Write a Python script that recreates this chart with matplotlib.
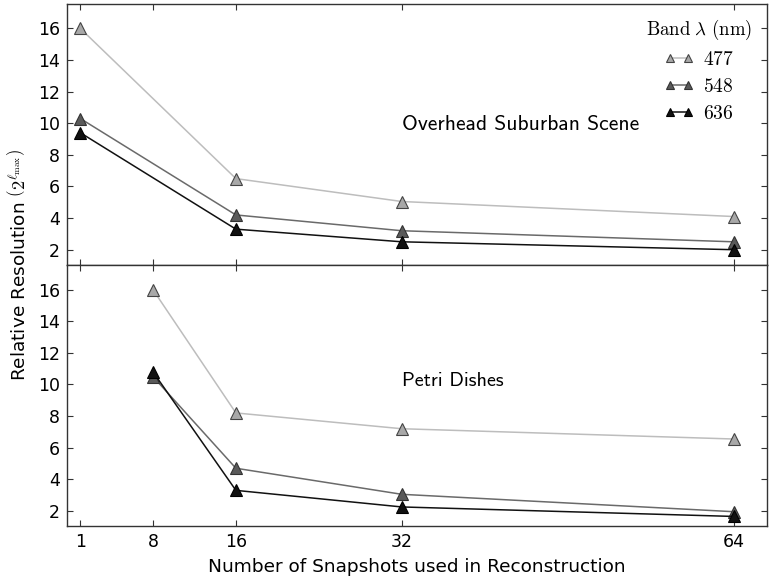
import matplotlib
matplotlib.use("Agg")
import matplotlib.pyplot as plt

plt.rcParams['mathtext.fontset'] = 'cm'
plt.rcParams['font.family'] = 'DejaVu Sans'

snapshots_top = [1, 16, 32, 64]
snapshots_bot = [8, 16, 32, 64]
bands = ['477', '548', '636']

# overhead suburban scene
res_top = {
    '477': [16.0, 6.5, 5.05, 4.1],
    '548': [10.3, 4.2, 3.2, 2.5],
    '636': [9.4, 3.3, 2.5, 2.0],
}
# petri dishes
res_bot = {
    '477': [16.0, 8.2, 7.2, 6.55],
    '548': [10.5, 4.7, 3.05, 1.95],
    '636': [10.8, 3.3, 2.25, 1.65],
}

line_col = {'477': '#bdbdbd', '548': '#6a6a6a', '636': '#111111'}
face_col = {'477': '#a8a8a8', '548': '#5a5a5a', '636': '#111111'}
edge_col = {'477': '#444444', '548': '#333333', '636': '#000000'}

xticks = [1, 8, 16, 32, 64]
yticks = [2, 4, 6, 8, 10, 12, 14, 16]

fig = plt.figure(figsize=(7.69, 5.85), dpi=100)
gs = fig.add_gridspec(2, 1, left=0.087, right=0.997, top=0.994, bottom=0.101, hspace=0)
ax1 = fig.add_subplot(gs[0])
ax2 = fig.add_subplot(gs[1], sharex=ax1)

for ax, xs, data in [(ax1, snapshots_top, res_top), (ax2, snapshots_bot, res_bot)]:
    for b in bands:
        ax.plot(xs, data[b], '-', marker='^', color=line_col[b], lw=1.1,
                ms=8, mfc=face_col[b], mec=edge_col[b], mew=0.8,
                label='$' + b + '$')
    ax.set_ylim(1.05, 17.58)
    ax.set_yticks(yticks)
    ax.tick_params(direction='in', top=True, right=True, length=4.5, pad=5,
                   labelsize=12.5, color='#333333')
    for s in ax.spines.values():
        s.set_color('#333333')
        s.set_linewidth(1.0)

ax1.set_xlim(-0.3, 67.2)
ax1.set_xticks(xticks)
ax1.tick_params(labelbottom=False)
ax2.set_xticklabels([str(t) for t in xticks])

ax1.text(32, 9.9, 'Overhead Suburban Scene', family='cmss10', fontsize=15.5,
         ha='left', va='center')
ax2.text(32, 10.2, 'Petri Dishes', family='cmss10', fontsize=14.5,
         ha='left', va='center')

leg = ax1.legend(title=r'$\mathrm{Band}\ \lambda\ (\mathrm{nm})$', loc='upper right',
                 frameon=False, numpoints=2, markerscale=0.7, handlelength=1.5,
                 fontsize=14, title_fontsize=13.5, labelspacing=0.4,
                 borderaxespad=0.35, handletextpad=0.5)

ax2.set_xlabel('Number of Snapshots used in Reconstruction', fontsize=13.3, labelpad=5)
fig.text(0.023, 0.547, r'Relative Resolution $\left(2^{\ell_{\mathrm{max}}}\right)$',
         rotation=90, ha='center', va='center', fontsize=13.3)

fig.savefig('out.png', dpi=100)
